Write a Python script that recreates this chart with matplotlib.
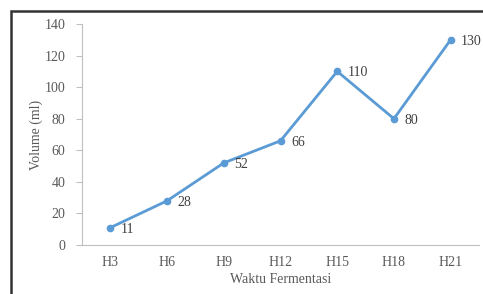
import matplotlib.pyplot as plt
from matplotlib.patches import Rectangle

days = ['H3', 'H6', 'H9', 'H12', 'H15', 'H18', 'H21']
volume = [11, 28, 52, 66, 110, 80, 130]

plt.rcParams['font.family'] = ['Liberation Serif', 'DejaVu Serif']

W, H = 483, 294
fig = plt.figure(figsize=(W / 100, H / 100), dpi=100)

# outer frame of the screenshot (cut off on right and bottom)
fig.patches.append(Rectangle((11 / W, -0.1), 1.5, 1 - 11 / H + 0.1, transform=fig.transFigure,
                             fill=False, edgecolor='#333333', linewidth=1.8))

ax = fig.add_axes([82 / W, 1 - 245 / H, (479 - 82) / W, (245 - 24) / H])
x = range(len(days))
ax.plot(x, volume, color='#5B9BD5', linewidth=2, marker='o', markersize=4.5)
for xi, v in zip(x, volume):
    ax.annotate(str(v), (xi, v), xytext=(7.5, -1), textcoords='offset points',
                fontsize=10, color='#404040', va='center')

ax.set_xlim(-0.5, len(days) - 0.5)
ax.set_ylim(0, 140)
ax.set_yticks(range(0, 141, 20))
ax.set_xticks(list(x))
ax.set_xticklabels(days)
for s in ['top', 'right']:
    ax.spines[s].set_visible(False)
ax.spines['left'].set_color('#bfbfbf')
ax.spines['bottom'].set_color('#bfbfbf')
ax.tick_params(axis='y', length=4, color='#bfbfbf', labelsize=10, labelcolor='#595959', pad=8)
ax.tick_params(axis='x', length=0, labelsize=10, labelcolor='#595959', pad=8)
ax.set_xlabel('Waktu Fermentasi', fontsize=10, color='#595959', labelpad=3)
ax.set_ylabel('Volume (ml)', fontsize=10, color='#595959')
ax.yaxis.set_label_coords((43 - 82) / (479 - 82), 0.5)

fig.savefig('out.png', dpi=100)
